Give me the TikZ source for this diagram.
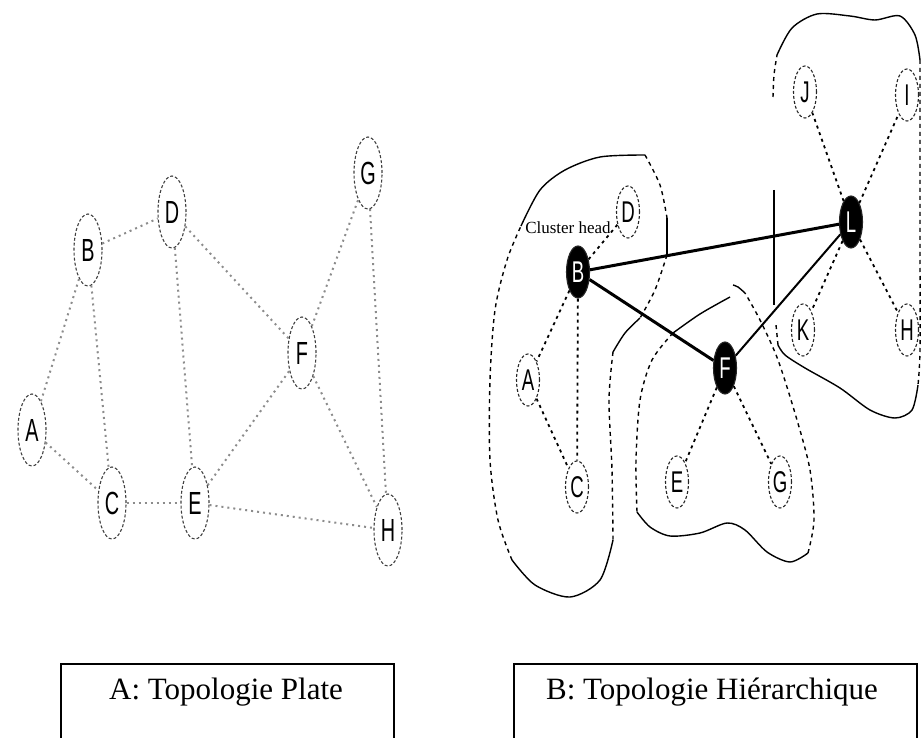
\documentclass[tikz,border=0pt]{standalone}
\usepackage{fontspec}
\setmainfont{Liberation Serif}
\newfontfamily\nodefont[FakeStretch=0.62]{Liberation Sans}
\usetikzlibrary{shapes.geometric}

\tikzset{
  platenode/.style={ellipse,draw=black!75,densely dashed,line width=1.1pt,
    minimum width=28pt,minimum height=72pt,inner sep=0pt,
    font={\nodefont\fontsize{32}{32}\selectfont}},
  hiernode/.style={ellipse,draw=black!85,densely dashed,line width=1.1pt,
    minimum width=23pt,minimum height=52pt,inner sep=0pt,
    font={\nodefont\fontsize{30}{30}\selectfont}},
  headnode/.style={hiernode,solid,fill=black,text=white},
  plateedge/.style={draw=black!45,line width=2pt,dash pattern=on 2pt off 4pt},
  hieredge/.style={draw=black,line width=1.8pt,dash pattern=on 3pt off 4pt},
  border/.style={draw=black,line width=1.4pt},
  borderdash/.style={border,dash pattern=on 4pt off 4pt},
  caption/.style={font=\fontsize{31}{31}\selectfont,inner sep=0pt}
}

\begin{document}
\begin{tikzpicture}[x=1pt,y=-1pt]
\useasboundingbox (0,0) rectangle (921,738);

% A: flat topology
\begin{scope}[every node/.style={platenode}]
    \node (pa) at (32,430) {A};
    \node (pb) at (88,250) {B};
    \node (pc) at (112,503) {C};
    \node (pd) at (172,212) {D};
    \node (pe) at (195,503) {E};
    \node (pf) at (302,353) {F};
    \node (pg) at (368,173) {G};
    \node (ph) at (388,530) {H};
\end{scope}

\begin{scope}[style={plateedge}]
    \path (pa) edge (pb);
    \path (pa) edge (pc);
    \path (pb) edge (pd);
    \path (pb) edge (pc);
    \path (pd) edge (pe);
    \path (pd) edge (pf);
    \path (pc) edge (pe);
    \path (pe) edge (pf);
    \path (pe) edge (ph);
    \path (pf) edge (pg);
    \path (pf) edge (ph);
    \path (pg) edge (ph);
\end{scope}

% B: hierarchical topology
\begin{scope}[every node/.style={hiernode}]
    \node (ha) at (528,380) {A};
    \node (hc) at (577,487) {C};
    \node (hd) at (628,212) {D};
    \node (he) at (677,482) {E};
    \node (hg) at (780,482) {G};
    \node (hj) at (805,92) {J};
    \node (hi) at (907,95) {I};
    \node (hk) at (803,330) {K};
    \node (hh) at (907,330) {H};
\end{scope}

\begin{scope}[every node/.style={headnode}]
    \node (hb) at (578,272) {B};
    \node (hf) at (725,368) {F};
    \node (hl) at (851,222) {L};
\end{scope}

\node[font=\fontsize{17}{17}\selectfont,inner sep=0pt] (head) at (568,228) {Cluster head};

\begin{scope}[style={hieredge}]
    \path (hb) edge (hd);
    \path (hb) edge (ha);
    \path (hb) edge (hc);
    \path (ha) edge (hc);
    \path (hf) edge (he);
    \path (hf) edge (hg);
    \path (hl) edge (hj);
    \path (hl) edge (hi);
    \path (hl) edge (hk);
    \path (hl) edge (hh);
\end{scope}

\draw[line width=3pt] (hb) -- (hl);
\draw[line width=3pt] (hb) -- (hf);
\draw[line width=2pt] (hf) -- (hl);

% cluster of B
\draw[border] plot[smooth] coordinates {(521,226) (540,190) (565,170) (600,157) (645,155)};
\draw[borderdash] plot[smooth] coordinates {(645,155) (660,185) (667,218)};
\draw[border] (667,218) -- (667,255);
\draw[borderdash] plot[smooth] coordinates {(667,255) (655,290) (640,318)};
\draw[border] plot[smooth] coordinates {(640,318) (625,333) (613,352)};
\draw[borderdash] plot[smooth] coordinates {(613,352) (609,400) (612,470) (613,540)};
\draw[border] plot[smooth] coordinates {(613,540) (600,580) (570,597) (535,585) (512,560)};
\draw[borderdash] plot[smooth] coordinates {(512,560) (498,520) (490,460) (490,380) (495,310) (507,260) (521,226)};

% cluster of F
\draw[border] plot[smooth] coordinates {(730,297) (700,314) (673,333)};
\draw[borderdash] plot[smooth] coordinates {(673,333) (652,360) (640,400) (636,460) (637,512)};
\draw[border] plot[smooth] coordinates {(637,512) (650,527) (670,536) (700,533) (727,523) (745,530) (767,552) (790,562) (808,553)};
\draw[borderdash] plot[smooth] coordinates {(808,553) (814,520) (810,470) (797,420) (778,360) (760,320) (745,293)};
\draw[border] plot[smooth] coordinates {(745,293) (738,287) (733,285)};

% cluster of L
\draw[border] plot[smooth] coordinates {(777,55) (792,28) (817,14) (850,16) (875,20) (900,16) (915,35) (920,60)};
\draw[borderdash] plot[smooth] coordinates {(920,60) (920,150) (920,250) (920,350) (918,385)};
\draw[border] plot[smooth] coordinates {(918,385) (912,410) (895,418) (870,410) (840,388) (805,368) (785,355) (778,345)};
\draw[borderdash] (778,345) -- (776,325);
\draw[border] (774,190) -- (774,305);
\draw[borderdash] plot[smooth] coordinates {(773,97) (774,75) (777,55)};

% captions
\node[caption] (capa) at (226,692) {A: Topologie Plate};
\node[caption] (capb) at (712,692) {B: Topologie Hiérarchique};
\draw[line width=1.5pt] (61,738) |- (394,664) -- (394,738);
\draw[line width=1.5pt] (514,738) |- (917,664) -- (917,738);

\end{tikzpicture}
\end{document}
